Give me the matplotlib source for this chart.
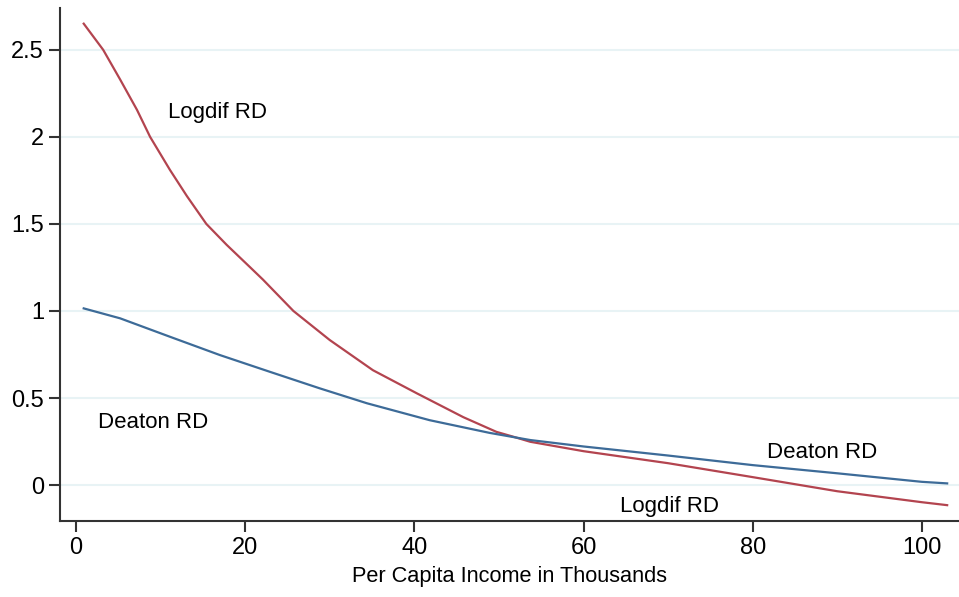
import numpy as np
import matplotlib.pyplot as plt

plt.rcParams['font.family'] = ['Liberation Sans', 'DejaVu Sans']

# Values
income = [0.9, 3.2, 5.2, 7.2, 8.75, 11.1, 13.1, 15.4, 17.8, 20.6, 22.1, 25.7, 30.0,
          35.1, 40.3, 45.8, 49.7, 51.7, 53.7, 60, 70, 80, 90, 100, 103]
logdif_rd = [2.65, 2.5, 2.33, 2.155, 2.0, 1.81, 1.66, 1.5, 1.38, 1.25, 1.18, 1.0, 0.833,
             0.66, 0.527, 0.39, 0.306, 0.278, 0.249, 0.195, 0.126, 0.046, -0.035, -0.098, -0.115]

income_d = [0.9, 5.2, 11.1, 17.0, 22.9, 28.8, 34.4, 41.8, 48.9, 53.7,
            60, 70, 80, 90, 100, 103]
deaton_rd = [1.015, 0.958, 0.852, 0.747, 0.651, 0.556, 0.47, 0.373, 0.30, 0.259,
             0.222, 0.17, 0.115, 0.068, 0.019, 0.01]

x_ticks = [0, 20, 40, 60, 80, 100]
y_ticks = [0, 0.5, 1, 1.5, 2, 2.5]
y_tick_labels = ['0', '0.5', '1', '1.5', '2', '2.5']

red = '#b3444f'
blue = '#3d6b98'

fig = plt.figure(figsize=(9.59, 5.97), dpi=100)
ax = fig.add_axes([0.0626, 0.127, 0.9374, 0.8596])

for yt in y_ticks:
    ax.axhline(yt, color='#e8f3f5', lw=1.5, zorder=0)

ax.plot(income, logdif_rd, color=red, lw=1.6)
ax.plot(income_d, deaton_rd, color=blue, lw=1.6)

box = dict(facecolor='white', edgecolor='none', pad=2)
ax.text(16.7, 2.14, 'Logdif RD', fontsize=16, ha='center', va='center', bbox=box)
ax.text(9.1, 0.36, 'Deaton RD', fontsize=16, ha='center', va='center', bbox=box)
ax.text(88.2, 0.19, 'Deaton RD', fontsize=16, ha='center', va='center')
ax.text(70.2, -0.12, 'Logdif RD', fontsize=16, ha='center', va='center')

ax.set_xlim(-1.9, 104.4)
ax.set_ylim(-0.207, 2.74)
ax.set_xticks(x_ticks)
ax.set_yticks(y_ticks)
ax.set_yticklabels(y_tick_labels)
ax.tick_params(axis='both', labelsize=17, length=8, width=1.5, color='#333333')
ax.set_xlabel('Per Capita Income in Thousands', fontsize=15.7, labelpad=5)

for side in ['top', 'right']:
    ax.spines[side].set_visible(False)
for side in ['left', 'bottom']:
    ax.spines[side].set_linewidth(1.5)
    ax.spines[side].set_color('#333333')

fig.savefig('out.png', dpi=100)
